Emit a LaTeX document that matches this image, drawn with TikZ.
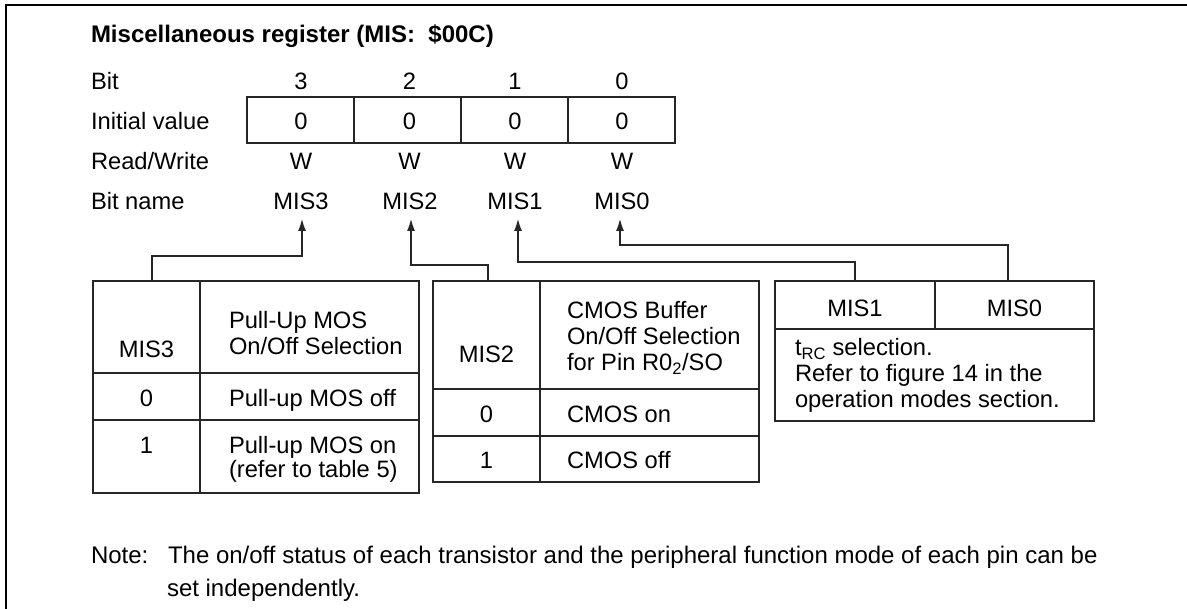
\documentclass[tikz,border=0pt]{standalone}
\usepackage{fontspec}
\setmainfont{Liberation Sans}
\usetikzlibrary{arrows.meta,fit}
\begin{document}
\begin{tikzpicture}[x=1pt,y=-1pt,
  every node/.style={inner sep=0pt, outer sep=0pt, font=\fontsize{23.7}{26}\selectfont},
  lbl/.style={anchor=base west},
  ctr/.style={anchor=base},
  notetext/.style={anchor=base west, font=\fontsize{24}{28}\selectfont},
  cell/.style={draw=black!85, line width=1.1pt, inner sep=0pt, outer sep=0pt},
  conn/.style={draw=black!85, line width=1.1pt},
  arr/.style={conn, -{Latex[length=12pt,width=8pt]}},
  frameline/.style={draw=black, line width=1.6pt}]

\useasboundingbox (0,0) rectangle (1187,609);

% frame (top and left edges)
\draw[frameline] (6,609) -- (6,5) -- (1187,5);

% title
\node[lbl, font=\fontsize{24}{28}\selectfont\bfseries] (title) at (91,43) {Miscellaneous register (MIS:\ \ \$00C)};

% row labels
\node[lbl] (lbit)  at (91,90)  {Bit};
\node[lbl] (linit) at (91,130) {Initial value};
\node[lbl] (lrw)   at (91,170) {Read/Write};
\node[lbl] (lname) at (91,210) {Bit name};

% register cells
\node[cell, fit={(247,97) (354,143)}] (r3) {};
\node[cell, fit={(354,97) (461,143)}] (r2) {};
\node[cell, fit={(461,97) (568,143)}] (r1) {};
\node[cell, fit={(568,97) (675,143)}] (r0) {};

% bit numbers
\node[ctr] (b3) at (301,90) {3};
\node[ctr] (b2) at (409.5,90) {2};
\node[ctr] (b1) at (515,90) {1};
\node[ctr] (b0) at (622,90) {0};
% initial values
\node[ctr] (i3) at (301,130) {0};
\node[ctr] (i2) at (409.5,130) {0};
\node[ctr] (i1) at (515,130) {0};
\node[ctr] (i0) at (622,130) {0};
% read/write
\node[ctr] (w3) at (301,170) {W};
\node[ctr] (w2) at (409.5,170) {W};
\node[ctr] (w1) at (515,170) {W};
\node[ctr] (w0) at (622,170) {W};
% bit names
\node[ctr] (mis3) at (301,210) {MIS3};
\node[ctr] (mis2) at (410,210) {MIS2};
\node[ctr] (mis1) at (515,210) {MIS1};
\node[ctr] (mis0) at (622,210) {MIS0};

% ---- MIS3 table
\node[cell, fit={(93,281) (200,373)}]  (h31) {};
\node[cell, fit={(200,281) (419,373)}] (h32) {};
\node[cell, fit={(93,373) (200,420)}]  (a31) {};
\node[cell, fit={(200,373) (419,420)}] (a32) {};
\node[cell, fit={(93,420) (200,493)}]  (c31) {};
\node[cell, fit={(200,420) (419,493)}] (c32) {};
\node[ctr] (t3a) at (146.5,358) {MIS3};
\node[lbl] (t3b) at (229,329) {Pull-Up MOS};
\node[lbl] (t3c) at (229,355) {On/Off Selection};
\node[ctr] (t3d) at (146.5,406.5) {0};
\node[lbl] (t3e) at (229,406.5) {Pull-up MOS off};
\node[ctr] (t3f) at (146.5,454) {1};
\node[lbl] (t3g) at (229,454) {Pull-up MOS on};
\node[lbl] (t3h) at (229,478) {(refer to table 5)};

% ---- MIS2 table
\node[cell, fit={(433,281) (540,389)}] (h21) {};
\node[cell, fit={(540,281) (759,389)}] (h22) {};
\node[cell, fit={(433,389) (540,436)}] (a21) {};
\node[cell, fit={(540,389) (759,436)}] (a22) {};
\node[cell, fit={(433,436) (540,482)}] (c21) {};
\node[cell, fit={(540,436) (759,482)}] (c22) {};
\node[ctr] (t2a) at (486.5,363) {MIS2};
\node[lbl] (t2b) at (567,319) {CMOS Buffer};
\node[lbl] (t2c) at (567,345) {On/Off Selection};
\node[lbl] (t2d) at (567,371) {for Pin R0\textsubscript{2}/SO};
\node[ctr] (t2e) at (486.5,422.5) {0};
\node[lbl] (t2f) at (567,422.5) {CMOS on};
\node[ctr] (t2g) at (486.5,469) {1};
\node[lbl] (t2h) at (567,469) {CMOS off};

% ---- MIS1/MIS0 table
\node[cell, fit={(775,281) (935,329)}]  (h11) {};
\node[cell, fit={(935,281) (1094,329)}] (h01) {};
\node[cell, fit={(775,329) (1094,421)}] (b10) {};
\node[ctr] (t1a) at (855,316.5) {MIS1};
\node[ctr] (t0a) at (1014.5,316.5) {MIS0};
\node[lbl] (t1b) at (795,356) {t\textsubscript{RC} selection.};
\node[lbl] (t1c) at (795,382) {Refer to figure 14 in the};
\node[lbl] (t1d) at (795,408) {operation modes section.};

% ---- connectors
\draw[arr] ([xshift=5.5pt]h31.north) -- ++(0,-25) -| ([xshift=1pt,yshift=-9pt]mis3.base);
\draw[arr] ([xshift=1.5pt]h21.north) -- ++(0,-16) -| ([xshift=1pt,yshift=-9pt]mis2.base);
\draw[arr] (h11.north) -- ++(0,-19) -| ([xshift=3pt,yshift=-9pt]mis1.base);
\draw[arr] ([xshift=-6.5pt]h01.north) -- ++(0,-36) -| ([xshift=-2pt,yshift=-9pt]mis0.base);

% ---- note
\node[notetext] (note) at (91,563) {Note:};
\node[notetext] (n1) at (168,563) {The on/off status of each transistor and the peripheral function mode of each pin can be};
\node[notetext] (n2) at (167,596) {set independently.};
\end{tikzpicture}
\end{document}
